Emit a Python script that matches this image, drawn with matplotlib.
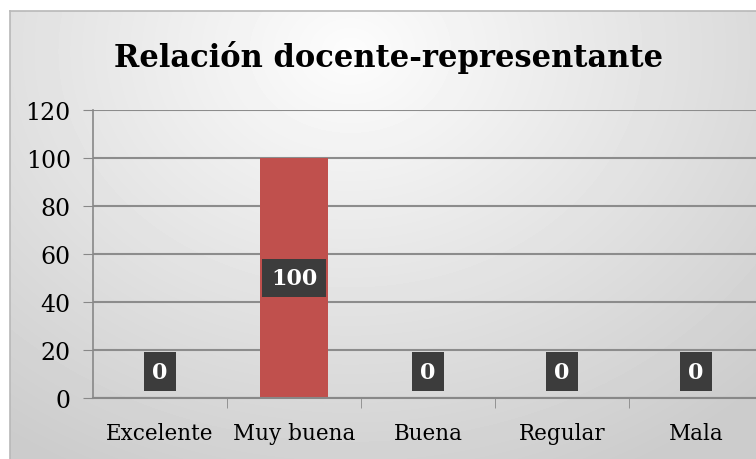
import numpy as np
import matplotlib.pyplot as plt

categorias = ['Excelente', 'Muy buena', 'Buena', 'Regular', 'Mala']
valores = [0, 100, 0, 0, 0]
ticks_y = [0, 20, 40, 60, 80, 100, 120]

W, H = 756, 460
fig = plt.figure(figsize=(W / 100, H / 100), dpi=100)
fig.patch.set_facecolor('white')

# fondo con degradado (marco del gráfico)
bg = fig.add_axes([10 / W, 0, 1 - 10 / W, 1 - 12 / H], zorder=0)
yy, xx = np.mgrid[0:448, 0:746]
d = np.sqrt(((xx - 340) / 520.0) ** 2 + ((yy - 40) / 420.0) ** 2)
g = np.clip(0.99 - 0.17 * d, 0.8, 0.99)
bg.imshow(g, cmap='gray', vmin=0, vmax=1, aspect='auto', interpolation='bilinear')
bg.set_xticks([])
bg.set_yticks([])
for s in ['top', 'left']:
    bg.spines[s].set_color('#b8b8b8')
    bg.spines[s].set_linewidth(1.2)
for s in ['bottom', 'right']:
    bg.spines[s].set_visible(False)

fuente = 'DejaVu Serif'
x0, x1 = 93, 93 + 5 * 134
ax = fig.add_axes([x0 / W, (H - 399) / H, (x1 - x0) / W, (399 - 111) / H], zorder=1)
ax.patch.set_alpha(0)

pos = np.arange(len(categorias))
ax.bar(pos, valores, width=0.51, color='#c0504d', zorder=2)
ax.set_xlim(-0.5, len(categorias) - 0.5)
ax.set_ylim(0, 120)
ax.set_yticks(ticks_y)
ax.set_yticklabels([str(t) for t in ticks_y], fontsize=17, family=fuente)
ax.set_xticks(pos)
ax.set_xticklabels(categorias, fontsize=15.5, family=fuente)
ax.tick_params(axis='x', length=0, pad=17)
ax.tick_params(axis='y', length=7, color='#888888', pad=9)
ax.set_xticks(np.arange(0.5, len(categorias) - 0.5, 1), minor=True)
ax.tick_params(axis='x', which='minor', length=7, color='#888888', direction='out')
ax.yaxis.grid(True, color='#8c8c8c', linewidth=1.5, zorder=1)
ax.set_axisbelow(True)
for s in ['top', 'right']:
    ax.spines[s].set_visible(False)
ax.spines['left'].set_color('#888888')
ax.spines['bottom'].set_color('#888888')
ax.spines['left'].set_linewidth(1.2)
ax.spines['bottom'].set_linewidth(1.5)

for p, v in zip(pos, valores):
    yv = v / 2 if v > 0 else 11
    ax.text(p, yv, str(v), ha='center', va='center', fontsize=16, fontweight='bold',
            family=fuente, color='white', zorder=4,
            bbox=dict(boxstyle='square,pad=0.38', facecolor='#3c3c3c', edgecolor='none'))

fig.text(389 / W, 1 - 57 / H, 'Relación docente-representante', ha='center', va='center',
         fontsize=22, fontweight='bold', family=fuente)

fig.savefig('out.png', dpi=100)
